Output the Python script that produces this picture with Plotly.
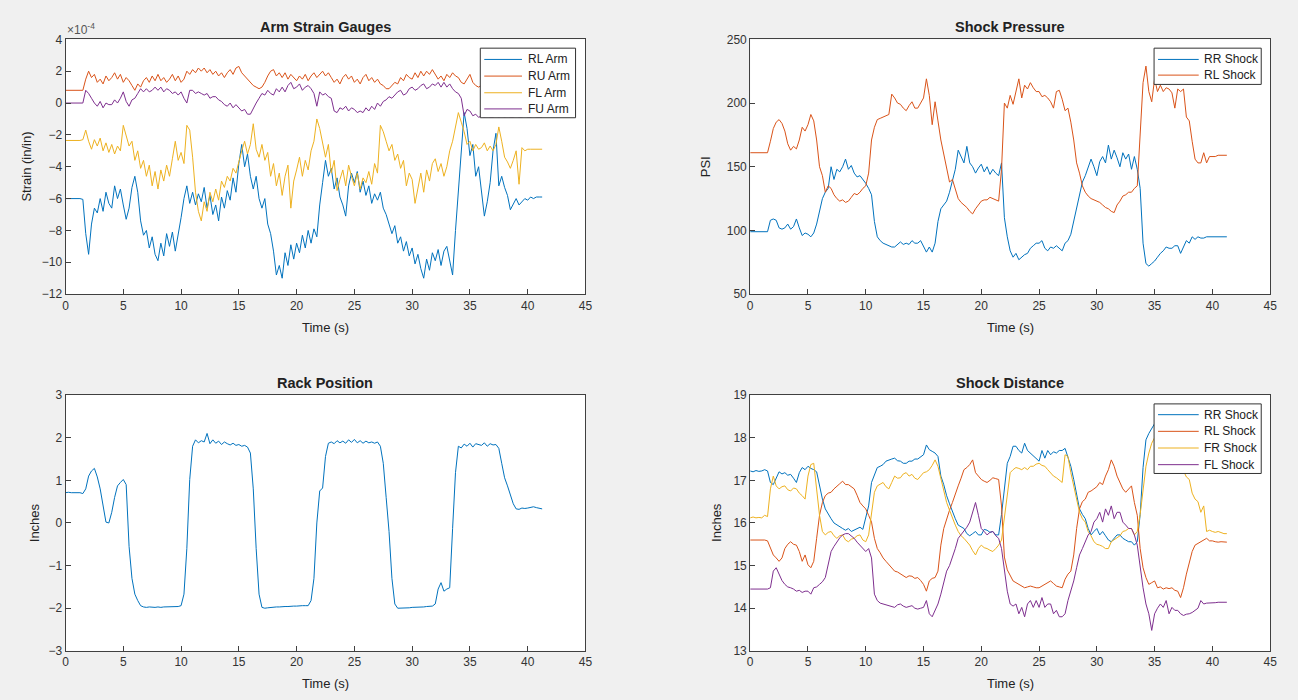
import plotly.graph_objects as go

# time samples (s), 0.25 s step
t = [round(i * 0.25, 2) for i in range(166)]

# ---------------- Arm strain gauges (x1e-4 in/in) ----------------
rl_arm = [
    -6.0, -6.0, -6.0, -6.0, -6.0, -6.0, -6.05, -8.2,
    -9.5, -7.6, -6.6, -6.9, -6.0, -6.8, -5.6, -6.3,
    -6.6, -5.2, -6.0, -5.4, -6.4, -7.3, -6.6, -5.3,
    -4.6, -5.6, -7.4, -8.3, -8.0, -9.1, -8.4, -9.5,
    -9.9, -8.8, -9.6, -8.2, -9.0, -8.1, -9.3, -8.3,
    -7.2, -6.0, -5.2, -6.3, -5.6, -6.4, -5.7, -6.2,
    -5.3, -6.6, -5.8, -7.0, -6.4, -7.4, -5.9, -6.6,
    -5.5, -6.1, -4.7, -5.6, -3.8, -2.6, -4.0, -3.2,
    -4.6, -5.4, -4.6, -6.0, -6.6, -6.0, -7.6, -8.2,
    -9.3, -10.8, -10.2, -11.0, -9.4, -10.2, -8.9, -9.8,
    -8.8, -9.4, -8.3, -9.1, -8.0, -8.8, -7.9, -8.4,
    -6.4, -5.0, -3.6, -4.6, -4.1, -5.4, -4.7, -5.9,
    -6.4, -7.1, -5.2, -4.4, -5.0, -4.3, -5.6, -4.9,
    -5.8, -5.2, -6.3, -5.7, -6.1, -5.6, -6.6, -7.0,
    -7.6, -8.2, -7.7, -8.8, -8.4, -9.3, -8.7, -9.6,
    -9.1, -10.1, -9.5, -10.4, -11.0, -9.8, -10.5, -9.4,
    -9.9, -9.2, -10.2, -9.3, -9.0, -9.9, -10.8, -8.0,
    -5.6, -2.6, -0.6, -1.6, -3.3, -2.6, -4.6, -4.0,
    -5.6, -7.1, -6.2, -5.0, -3.0, -1.9, -5.2, -4.6,
    -5.3, -5.8, -6.7, -6.3, -6.0, -6.4, -6.2, -6.0,
    -6.1, -5.9, -6.0, -5.9, -5.9, -5.9,
]
ru_arm = [
    0.8, 0.8, 0.8, 0.8, 0.8, 0.8, 0.8, 1.5,
    2.0, 1.6, 1.8, 1.3, 1.5, 1.2, 1.7, 1.4,
    1.6, 1.9, 1.5, 1.8, 1.3, 1.6, 1.4, 1.1,
    0.8, 1.2, 1.0, 1.4, 1.6, 1.3, 1.7, 1.4,
    1.8, 1.4, 1.6, 1.3, 1.5, 1.8, 1.4, 1.7,
    1.3, 1.5, 2.0, 1.8, 2.1, 1.9, 2.2, 2.0,
    2.2, 1.9, 2.1, 1.8, 2.0, 1.7, 1.9, 1.6,
    1.9, 2.1, 1.8, 2.2, 2.3, 1.9, 1.7, 1.5,
    1.3, 1.1, 1.0, 0.9, 1.0, 1.3, 1.7, 2.0,
    2.1, 1.7, 1.9, 1.6, 1.9, 1.5, 1.8, 1.6,
    1.4, 1.7, 1.5, 1.8, 1.4, 1.7, 1.9, 1.6,
    1.8, 2.0, 1.7, 1.9, 1.6, 1.3, 1.5, 1.2,
    1.6, 1.8, 1.5, 1.7, 1.3, 1.5, 1.2, 1.6,
    1.8, 1.4, 1.6, 1.3, 1.5, 1.2, 1.1, 0.9,
    0.9, 1.1, 1.3, 1.2, 1.6, 1.4, 1.8, 1.6,
    1.5, 1.9, 1.6, 2.0, 1.7, 2.0, 1.8, 2.1,
    1.8, 1.5, 1.7, 1.4, 1.8, 1.6, 1.9, 1.7,
    1.6, 1.3, 1.2, 1.5, 1.8, 1.3, 1.1, 1.0,
    1.1, 1.2, 1.0, 1.2, 1.1, 1.3, 1.0, 1.2,
    1.1, 1.2, 1.0, 1.1, 1.2, 1.0, 1.1, 1.2,
    1.1, 1.1, 1.2, 1.1, 1.1, 1.1,
]
fl_arm = [
    -2.35, -2.35, -2.35, -2.35, -2.35, -2.35, -2.3, -1.7,
    -2.4, -2.9, -2.3, -2.7, -2.2, -3.0, -2.5, -3.1,
    -2.6, -3.2, -2.7, -3.0, -1.4, -2.0, -2.7, -2.4,
    -3.6, -3.0, -4.1, -3.6, -4.6, -3.9, -5.2, -4.3,
    -5.4, -4.2, -4.9, -3.9, -4.6, -3.5, -2.4, -3.6,
    -3.1, -3.8, -1.4, -1.7, -3.4, -5.6, -6.8, -7.4,
    -6.2, -6.8, -5.6, -6.2, -5.4, -6.1, -4.9, -5.3,
    -4.6, -4.9, -4.1, -4.4, -3.6, -3.0, -2.4, -3.2,
    -2.6, -1.3, -2.9, -3.4, -2.6, -3.6, -3.1, -4.6,
    -3.8, -5.2, -4.4, -5.8, -4.6, -3.9, -6.6, -4.9,
    -4.2, -3.4, -4.6, -3.6, -4.2, -3.0, -2.4, -1.0,
    -1.6, -2.4, -3.4, -2.6, -4.4, -3.6, -5.5, -4.8,
    -4.2, -5.2, -3.9, -4.6, -5.2, -4.4, -5.4, -4.7,
    -5.0, -4.3, -5.1, -3.8, -4.4, -1.4, -1.8, -2.4,
    -3.0, -2.6, -3.6, -3.2, -4.1, -3.6, -5.2, -4.4,
    -4.8, -6.3, -5.4, -4.4, -5.6, -4.2, -4.9, -3.8,
    -3.5, -4.3, -3.8, -4.6, -4.0, -3.0, -2.4, -1.6,
    -0.6, -1.2, -1.8, -2.6, -2.4, -3.0, -2.6, -2.9,
    -2.8, -2.5, -3.0, -2.7, -3.0, -2.6, -1.5, -2.4,
    -3.4, -3.7, -4.1, -3.6, -3.0, -5.1, -2.8, -3.0,
    -2.9, -2.9, -2.9, -2.9, -2.9, -2.9,
]
fu_arm = [
    0.0, 0.0, 0.0, 0.0, 0.0, 0.0, 0.0, 0.8,
    0.6, 0.3, 0.0, -0.2, 0.1, -0.3, 0.0, -0.1,
    -0.1, 0.2, 0.0, 0.3, 0.7, 0.1, -0.2, 0.2,
    0.3, 0.6, 0.9, 0.7, 0.9, 0.7, 0.8, 1.0,
    0.8, 1.0, 0.7, 0.9, 0.8, 0.6, 0.7, 0.5,
    0.7, 0.3, 0.0, 0.8, 0.8, 0.6, 0.7, 0.6,
    0.5, 0.6, 0.3, 0.4, 0.4, 0.2, 0.1, -0.1,
    -0.2, 0.0, -0.3, -0.1, -0.3, -0.5, -0.4, -0.7,
    -0.7, -0.3, 0.0, 0.3, 0.6, 0.5, 0.8, 0.6,
    0.5, 0.9, 0.7, 1.0, 0.7, 1.1, 1.3, 0.9,
    1.0, 1.2, 0.8, 1.0, 1.1, 0.9, 0.6, -0.2,
    0.7, 0.5, 0.6, 0.4, 0.3, -0.5, -0.6, -0.3,
    -0.4, -0.2, -0.5, -0.3, -0.4, -0.6, -0.5, -0.6,
    -0.3, -0.5, -0.2, -0.4, 0.0, -0.2, 0.1, 0.2,
    0.4, 0.3, 0.5, 0.7, 0.8, 0.5, 0.6, 0.9,
    1.0, 0.8, 0.9, 1.1, 1.2, 0.9, 1.0, 1.2,
    1.1, 1.3, 1.0, 1.3, 1.0, 1.2, 0.9, 0.7,
    0.6, 0.3, -0.8, -0.4, -0.5, -0.8, -0.7, -0.9,
    -0.8, -0.9, -0.8, -0.9, -0.9, -0.8, -0.9, -0.8,
    -0.9, -0.8, -0.9, -0.9, -0.8, -0.9, -0.9, -0.8,
    -0.9, -0.9, -0.8, -0.9, -0.9, -0.9,
]

# ---------------- Shock pressure (PSI) ----------------
rr_psi = [
    99, 99, 99, 99, 99, 99, 99, 108,
    109, 108, 102, 101, 102, 105, 101, 103,
    109, 102, 96, 98, 97, 95, 98, 105,
    114, 125, 130, 133, 150, 140, 148, 146,
    150, 156, 148, 151, 145, 142, 143, 140,
    137, 133, 128, 107, 95, 92, 90, 89,
    88, 87, 87, 89, 91, 89, 90, 89,
    92, 90, 90, 92, 87, 83, 87, 83,
    90, 107, 117, 120, 123, 130, 138, 148,
    163, 158, 153, 166, 153, 150, 145, 149,
    152, 146, 150, 144, 148, 145, 143, 153,
    110, 95, 84, 79, 82, 77, 79, 81,
    82, 86, 88, 90, 90, 92, 86, 84,
    87, 86, 88, 86, 84, 90, 92, 97,
    107, 116, 128, 138, 143, 150, 156, 150,
    143, 154, 158, 153, 167, 156, 163, 157,
    150, 161, 156, 160, 148, 158, 148, 133,
    90, 74, 72, 74, 76, 79, 82, 84,
    87, 86, 86, 88, 88, 82, 87, 92,
    90, 95, 93, 95, 94, 94, 95, 95,
    95, 95, 95, 95, 95, 95,
]
rl_psi = [
    161, 161, 161, 161, 161, 161, 161, 170,
    180, 185, 187, 184, 178, 168, 163, 166,
    164, 171, 181, 178, 183, 191, 186, 171,
    150, 143, 130, 135, 133, 128, 125, 123,
    124, 122, 123, 126, 129, 128, 130, 133,
    135, 145, 171, 181, 187, 188, 189, 190,
    191, 207, 204, 200, 199, 196, 194, 198,
    201, 196, 196, 200, 204, 219, 206, 183,
    201, 186, 171, 160, 148, 138, 140, 132,
    125, 122, 120, 118, 115, 113, 117, 120,
    123, 124, 124, 126, 125, 124, 123, 148,
    200, 196, 206, 199, 210, 219, 204, 214,
    211, 216, 212, 209, 209, 205, 206, 204,
    201, 196, 209, 210, 203, 194, 196, 185,
    171, 153, 145, 135, 130, 127, 125, 124,
    123, 122, 120, 118, 117, 115, 114, 120,
    123, 127, 128, 130, 130, 133, 135, 178,
    216, 229, 209, 201, 219, 209, 214, 209,
    212, 211, 208, 196, 211, 209, 211, 189,
    186, 170, 156, 153, 153, 161, 153, 158,
    158, 158, 159, 159, 159, 159,
]

# ---------------- Rack position (in) ----------------
rack = [
    0.71, 0.72, 0.71, 0.71, 0.7, 0.71, 0.69, 0.8,
    1.1, 1.22, 1.28, 1.08, 0.8, 0.4, 0.02, 0.0,
    0.25, 0.6, 0.87, 0.95, 1.02, 0.9, -0.55, -1.3,
    -1.67, -1.82, -1.94, -1.97, -1.98, -1.97, -1.98, -1.98,
    -1.97, -1.98, -1.97, -1.97, -1.97, -1.96, -1.97, -1.96,
    -1.94, -1.67, -0.6, 1.02, 1.8, 1.95, 1.88, 1.93,
    1.9, 2.1, 1.86, 1.95, 1.87, 1.92, 1.84, 1.9,
    1.86, 1.83, 1.87, 1.82, 1.84, 1.8, 1.82, 1.78,
    1.64, 0.8, -0.6, -1.67, -1.98, -2.0, -1.99, -1.98,
    -1.98, -1.97, -1.97, -1.96, -1.96, -1.96, -1.95, -1.95,
    -1.95, -1.94, -1.94, -1.94, -1.94, -1.82, -1.3, 0.0,
    0.75, 0.82, 1.56, 1.87, 1.9, 1.86, 1.93, 1.88,
    1.92, 1.87, 1.95, 1.89, 1.96, 1.88, 1.93, 1.87,
    1.92, 1.88, 1.9, 1.87, 1.9, 1.8, 1.4, 0.6,
    -0.2, -1.3, -1.9, -2.0, -2.0, -2.0, -1.99, -1.99,
    -1.98, -1.98, -1.97, -1.97, -1.97, -1.96, -1.96, -1.95,
    -1.9, -1.55, -1.4, -1.6, -1.55, -1.52, -0.13, 1.18,
    1.8, 1.76, 1.85, 1.8, 1.87, 1.78, 1.86, 1.84,
    1.82, 1.88, 1.8, 1.86, 1.83, 1.84, 1.75, 1.4,
    1.06, 0.87, 0.64, 0.45, 0.33, 0.32, 0.35, 0.34,
    0.35, 0.36, 0.38, 0.36, 0.34, 0.33,
]

# ---------------- Shock distance (in) ----------------
rr_dist = [
    17.22, 17.2, 17.23, 17.21, 17.22, 17.25, 17.22, 16.95,
    16.9, 17.05, 17.2, 17.15, 17.18, 17.12, 17.14, 17.05,
    16.95, 17.18, 17.3, 17.25, 17.33, 17.28, 17.25, 17.2,
    16.87, 16.56, 16.33, 16.2, 16.1, 16.0, 15.95, 15.9,
    15.87, 15.83, 15.87, 15.8, 15.83, 15.86, 15.9, 15.85,
    16.1, 16.4, 16.95, 17.15, 17.3, 17.33, 17.37, 17.45,
    17.48, 17.5, 17.52, 17.46, 17.45, 17.4, 17.4, 17.45,
    17.45, 17.5, 17.5, 17.55, 17.6, 17.83, 17.72, 17.68,
    17.64, 17.56, 17.1, 16.9, 16.64, 16.45, 16.25, 16.1,
    15.95, 15.9, 15.87, 15.75, 15.7, 15.75, 15.8, 15.72,
    15.72, 15.85, 15.83, 15.78, 15.8, 15.72, 15.72, 16.2,
    16.8, 17.4, 17.56, 17.8, 17.8, 17.7, 17.64, 17.87,
    17.7, 17.64, 17.56, 17.52, 17.45, 17.7, 17.52, 17.7,
    17.6, 17.67, 17.64, 17.7, 17.7, 17.75, 17.56, 17.33,
    17.02, 16.64, 16.33, 16.2, 16.1, 15.87, 15.72, 15.8,
    15.87, 15.72, 15.8, 15.7, 15.6, 15.56, 15.65, 15.72,
    15.72, 15.64, 15.6, 15.56, 15.56, 15.48, 15.56, 16.2,
    17.3, 17.95, 18.1, 18.2, 18.33, 18.35, 18.3, 18.25,
    18.3, 18.28, 18.32, 18.3, 18.3, 18.28, 18.25, 18.3,
    18.3, 18.32, 18.28, 18.3, 18.3, 18.3, 18.3, 18.3,
    18.3, 18.3, 18.3, 18.3, 18.3, 18.3,
]
rl_dist = [
    15.6, 15.6, 15.6, 15.6, 15.6, 15.6, 15.58, 15.4,
    15.25, 15.18, 15.1, 15.18, 15.4, 15.5, 15.56, 15.5,
    15.48, 15.33, 15.1, 15.25, 15.02, 14.95, 15.1, 15.64,
    16.18, 16.48, 16.64, 16.7, 16.72, 16.8, 16.87, 16.92,
    16.98, 16.9, 16.9, 16.85, 16.8, 16.65, 16.48, 16.4,
    16.33, 16.18, 16.02, 15.64, 15.4, 15.3, 15.18, 15.1,
    15.02, 14.95, 14.87, 14.85, 14.8, 14.75, 14.72, 14.76,
    14.75, 14.7, 14.72, 14.65, 14.56, 14.4, 14.64, 14.7,
    14.72, 14.87, 15.48, 15.87, 16.1, 16.3, 16.48, 16.7,
    16.87, 17.05, 17.25, 17.3, 17.37, 17.48, 17.18, 17.1,
    17.02, 16.98, 16.95, 17.0, 17.06, 17.04, 17.02, 16.4,
    15.2, 14.9, 14.75, 14.64, 14.6, 14.56, 14.52, 14.48,
    14.5, 14.52, 14.5, 14.48, 14.48, 14.52, 14.56, 14.6,
    14.64, 14.58, 14.52, 14.5, 14.48, 14.68, 14.8, 14.87,
    15.25, 15.87, 16.33, 16.5, 16.56, 16.72, 16.75, 16.8,
    16.85, 16.95, 16.9, 17.1, 17.25, 17.48, 17.33, 17.1,
    16.95, 16.8, 16.72, 16.8, 16.87, 16.48, 16.18, 15.4,
    14.95, 14.72, 14.56, 14.6, 14.64, 14.48, 14.5, 14.45,
    14.48, 14.46, 14.48, 14.42, 14.4, 14.25, 14.48, 14.8,
    15.1, 15.33, 15.48, 15.52, 15.56, 15.6, 15.64, 15.58,
    15.58, 15.56, 15.55, 15.56, 15.55, 15.55,
]
fr_dist = [
    16.12, 16.14, 16.12, 16.13, 16.12, 16.18, 16.15, 16.8,
    17.1, 16.87, 16.8, 16.85, 16.87, 16.78, 16.75, 16.82,
    16.8, 16.7, 16.64, 16.56, 17.1, 17.37, 17.4, 16.8,
    16.18, 15.8, 15.72, 15.78, 15.8, 15.7, 15.64, 15.7,
    15.72, 15.6, 15.56, 15.62, 15.64, 15.7, 15.72, 15.6,
    15.56, 15.72, 16.18, 16.72, 16.87, 16.92, 16.95, 16.85,
    16.8, 16.95, 17.1, 17.05, 17.06, 17.15, 17.18, 17.1,
    17.14, 17.05, 17.02, 17.1, 17.18, 17.2, 17.25, 17.35,
    17.48, 17.33, 17.02, 16.75, 16.48, 16.3, 16.1, 15.95,
    15.8, 15.7, 15.64, 15.55, 15.48, 15.35, 15.25, 15.4,
    15.48, 15.42, 15.4, 15.36, 15.33, 15.4, 15.48, 15.6,
    16.1, 16.7, 17.18, 17.25, 17.3, 17.28, 17.25, 17.3,
    17.25, 17.33, 17.33, 17.38, 17.4, 17.35, 17.33, 17.25,
    17.18, 17.1, 17.06, 17.0, 16.95, 17.6, 17.56, 17.18,
    16.87, 16.56, 16.25, 16.1, 16.02, 15.8, 15.7, 15.56,
    15.5, 15.48, 15.45, 15.4, 15.4, 15.56, 15.6, 15.64,
    15.7, 15.8, 15.82, 15.87, 15.87, 15.72, 15.8, 16.2,
    16.8, 17.33, 17.64, 17.87, 18.0, 18.1, 18.0, 17.9,
    17.8, 17.7, 17.65, 17.6, 17.5, 17.35, 17.2, 17.08,
    17.02, 16.7, 16.56, 16.5, 16.25, 16.4, 15.8, 15.83,
    15.8, 15.78, 15.8, 15.77, 15.75, 15.75,
]
fl_dist = [
    14.45, 14.45, 14.45, 14.45, 14.45, 14.46, 14.45, 14.48,
    14.87, 14.95, 14.8, 14.65, 14.56, 14.5, 14.48, 14.45,
    14.4, 14.42, 14.37, 14.4, 14.4, 14.33, 14.48, 14.5,
    14.56, 14.62, 14.72, 15.0, 15.33, 15.45, 15.56, 15.65,
    15.72, 15.75, 15.75, 15.7, 15.64, 15.55, 15.48, 15.4,
    15.33, 15.4, 15.18, 14.33, 14.18, 14.12, 14.1, 14.08,
    14.06, 14.04, 14.02, 14.08, 14.1, 14.05, 14.02, 14.04,
    14.06, 14.0, 13.98, 14.0, 14.02, 14.18, 13.87, 13.8,
    13.95, 14.1, 14.33, 14.6, 14.87, 15.0, 15.18, 15.4,
    15.64, 15.72, 15.8, 15.9, 16.02, 16.25, 16.48, 16.18,
    15.87, 15.8, 15.72, 15.78, 15.8, 15.7, 15.64, 15.4,
    14.9, 14.4, 14.1, 14.05, 14.1, 13.87, 14.02, 13.8,
    14.1, 14.18, 14.02, 14.18, 14.02, 14.25, 14.02, 14.1,
    14.1, 13.87, 13.95, 13.8, 13.8, 13.87, 14.18, 14.4,
    14.64, 14.95, 15.25, 15.4, 15.56, 15.72, 15.8, 16.02,
    16.1, 16.25, 16.02, 16.33, 16.18, 16.4, 16.1, 16.25,
    16.25, 16.02, 15.95, 15.87, 15.87, 15.72, 15.48, 14.95,
    14.48, 14.1, 13.87, 13.48, 13.87, 14.0, 14.1, 14.02,
    14.18, 13.87, 14.02, 13.95, 13.95, 13.87, 13.83, 13.86,
    13.87, 13.9, 13.95, 14.0, 14.18, 14.1, 14.12, 14.12,
    14.12, 14.13, 14.14, 14.14, 14.14, 14.14,
]

x_ticks = [0, 5, 10, 15, 20, 25, 30, 35, 40, 45]
strain_ticks = [-12, -10, -8, -6, -4, -2, 0, 2, 4]
psi_ticks = [50, 100, 150, 200, 250]
rack_ticks = [-3, -2, -1, 0, 1, 2, 3]
dist_ticks = [13, 14, 15, 16, 17, 18, 19]

arm_names = ["RL Arm", "RU Arm", "FL Arm", "FU Arm"]
psi_names = ["RR Shock", "RL Shock"]
dist_names = ["RR Shock", "RL Shock", "FR Shock", "FL Shock"]

C_BLUE, C_ORANGE, C_YELLOW, C_PURPLE = "#0072BD", "#D95319", "#EDB120", "#7E2F8E"
COLORS = [C_BLUE, C_ORANGE, C_YELLOW, C_PURPLE]
W, H = 1298, 700
FONT = "Liberation Sans, Arial, sans-serif"
AX_COL = "#404040"


def px_x(p):
    return p / W


def px_y(p):
    return 1 - p / H


fig = go.Figure()


def line(x, y, name, color, xa, ya):
    fig.add_trace(go.Scatter(
        x=x, y=y, name=name, mode="lines",
        line=dict(color=color, width=1),
        xaxis=xa, yaxis=ya, showlegend=False,
    ))


for name, ys, c in zip(arm_names, [rl_arm, ru_arm, fl_arm, fu_arm], COLORS):
    line(t, ys, name, c, "x", "y")
for name, ys, c in zip(psi_names, [rr_psi, rl_psi], COLORS):
    line(t, ys, name, c, "x2", "y2")
line(t, rack, "Rack Position", C_BLUE, "x3", "y3")
for name, ys, c in zip(dist_names, [rr_dist, rl_dist, fr_dist, fl_dist], COLORS):
    line(t, ys, name, c, "x4", "y4")

L_X = [px_x(63), px_x(587)]
R_X = [px_x(753), px_x(1277)]
T_Y = [px_y(293), px_y(33)]
B_Y = [px_y(657), px_y(396)]


def xaxis(dom, anchor):
    return dict(domain=dom, anchor=anchor, range=[0, 45], tickvals=x_ticks,
                ticks="inside", ticklen=5, tickcolor=AX_COL, showline=True,
                linecolor=AX_COL, linewidth=1, mirror=True, showgrid=False,
                zeroline=False, tickfont=dict(size=12, color="#333333", family=FONT))


def yaxis(dom, anchor, rng, tv):
    return dict(domain=dom, anchor=anchor, range=rng, tickvals=tv,
                ticks="inside", ticklen=5, tickcolor=AX_COL, showline=True,
                linecolor=AX_COL, linewidth=1, mirror=True, showgrid=False,
                zeroline=False, tickfont=dict(size=12, color="#333333", family=FONT))


annotations = []
shapes = []


def text(xp, yp, s, size=12, bold=False, angle=0, xanchor="center", color="#222222"):
    annotations.append(dict(
        x=px_x(xp), y=px_y(yp), xref="paper", yref="paper",
        text=f"<b>{s}</b>" if bold else s, showarrow=False,
        textangle=angle, xanchor=xanchor, yanchor="middle",
        font=dict(size=size, family=FONT, color=color)))


def legend_box(x0, x1, y0, y1, rows, names, line_x0, line_x1, text_x):
    shapes.append(dict(type="rect", xref="paper", yref="paper", layer="above",
                       x0=px_x(x0), x1=px_x(x1), y0=px_y(y1), y1=px_y(y0),
                       fillcolor="white", line=dict(color="#333333", width=1)))
    for ry, nm, c in zip(rows, names, COLORS):
        shapes.append(dict(type="line", xref="paper", yref="paper", layer="above",
                           x0=px_x(line_x0), x1=px_x(line_x1), y0=px_y(ry), y1=px_y(ry),
                           line=dict(color=c, width=1)))
        text(text_x, ry, nm, 12, xanchor="left")


legend_box(481, 577, 42, 113, [53.5, 70.5, 87.5, 104], arm_names, 485, 523, 527)
legend_box(1160, 1268, 42, 79, [53.5, 69.5], psi_names, 1164, 1205, 1208)
legend_box(1160, 1268, 405, 476, [416, 433, 450, 467], dist_names, 1164, 1205, 1208)

text(325, 20, "Arm Strain Gauges", 14.5, True)
text(1015, 20, "Shock Pressure", 14.5, True)
text(325, 384, "Rack Position", 14.5, True)
text(1015, 384, "Shock Distance", 14.5, True)
for cx, cy in [(325, 327), (1015, 327), (325, 690), (1015, 690)]:
    text(cx, cy, "Time (s)", 13)
text(24, 163, "Strain (in/in)", 13, angle=-90)
text(708, 163, "PSI", 13, angle=-90)
text(32, 526, "Inches", 13, angle=-90)
text(719, 526, "Inches", 13, angle=-90)
text(62, 22, "×10<sup>-4</sup>", 12, xanchor="left", color="#555555")

fig.update_layout(
    width=W, height=H,
    margin=dict(l=0, r=0, t=0, b=0),
    paper_bgcolor="#f0f0f0", plot_bgcolor="white",
    font=dict(family=FONT),
    xaxis=xaxis(L_X, "y"), yaxis=yaxis(T_Y, "x", [-12, 4], strain_ticks),
    xaxis2=xaxis(R_X, "y2"), yaxis2=yaxis(T_Y, "x2", [50, 250], psi_ticks),
    xaxis3=xaxis(L_X, "y3"), yaxis3=yaxis(B_Y, "x3", [-3, 3], rack_ticks),
    xaxis4=xaxis(R_X, "y4"), yaxis4=yaxis(B_Y, "x4", [13, 19], dist_ticks),
    showlegend=False,
    annotations=annotations,
    shapes=shapes,
    hovermode=False,
)

fig.write_html(
    "out.html",
    config={"displayModeBar": False},
    post_script="document.body.style.margin='0';document.body.style.background='#f0f0f0';",
)
